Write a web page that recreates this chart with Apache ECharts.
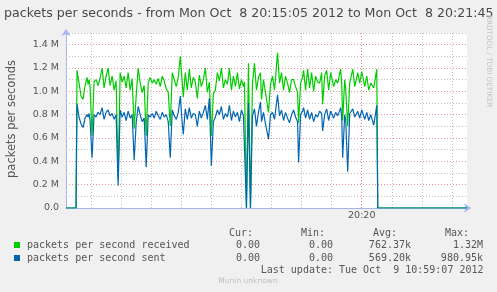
<!DOCTYPE html>
<html>
<head>
<meta charset="utf-8">
<script src="https://cdn.jsdelivr.net/npm/echarts@6/dist/echarts.min.js"></script>
<style>
html,body{margin:0;padding:0;background:#f0f0f0;}
#c{width:497px;height:292px;}
</style>
</head>
<body>
<div id="c"></div>
<script>
// Seconds since 20:15:00
const times = [5,15,16,18,20,22,24,26,27,28,29,31,33,35,37,39,41,43,45,47,49,51,53,55,57,59,61,63,65,67,69,71,73,75,77,79,81,83,85,87,89,
91,93,95,97,99,101,103,105,107,109,111,113,115,117,119,121,122,124,126,128,130,132,134,136,138,140,142,144,146,148,150,152,154,156,158,160,162,164,166,
168,170,172,174,176,178,180,182,183,185,187,189,191,193,195,197,199,200,202,204,207,209,211,213,216,218,220,222,224,226,228,230,232,234,236,237,239,241,242,244,
246,248,250,252,254,256,258,260,261,263,265,267,269,272,274,276,279,280,281,283,284,286,288,291,293,296,298,300,303,305,307,309,312,315,316,405];
// packets per second received (millions)
const received = [0,0,1.18,1.07,0.96,0.93,1.05,1.12,1.06,1.10,1.04,0.62,1.08,1.10,1.05,1.11,1.20,1.03,1.13,1.20,1.05,1.13,1.01,1.09,0.25,1.16,1.08,1.13,1.03,1.16,1.01,1.11,0.68,0.96,1.20,1.07,0.99,1.05,0.62,1.07,1.12,
1.07,1.10,1.06,1.11,1.04,1.13,1.09,1.02,0.99,0.70,1.16,1.10,1.04,1.12,1.30,1.07,0.95,1.16,1.01,1.19,1.03,1.12,1.08,0.94,1.14,1.04,1.10,1.20,0.99,1.08,0.62,0.98,1.01,1.16,1.09,1.20,1.03,1.10,1.06,
1.20,1.01,1.13,1.04,1.16,1.02,1.10,1.04,1.08,0,1.24,0,1.07,1.24,1.01,1.12,1.16,0.93,1.10,0.99,0.82,1.06,1.13,1.01,1.33,1.07,1.16,1.01,1.13,1.07,0.99,1.10,1.10,1.04,0.99,0.73,1.07,1.12,1.18,1.01,
1.19,1.03,1.16,1.00,1.13,1.08,1.07,1.16,0.89,1.13,1.18,1.01,1.16,1.04,1.10,1.07,1.19,1.07,0.75,1.10,1.02,0.70,1.07,1.19,1.04,1.16,1.07,1.17,1.04,1.13,1.01,1.07,1.03,1.19,0,0];
// packets per second sent (millions)
const sent = [0,0,0.89,0.78,0.72,0.69,0.77,0.80,0.78,0.81,0.75,0.43,0.80,0.78,0.82,0.80,0.86,0.76,0.82,0.84,0.79,0.81,0.76,0.80,0.19,0.84,0.78,0.82,0.75,0.83,0.77,0.80,0.41,0.73,0.87,0.80,0.74,0.77,0.35,0.80,0.78,
0.81,0.77,0.83,0.79,0.76,0.82,0.78,0.80,0.74,0.43,0.84,0.79,0.76,0.82,0.96,0.72,0.63,0.85,0.76,0.86,0.77,0.81,0.80,0.70,0.83,0.77,0.82,0.88,0.76,0.94,0.36,0.74,0.78,0.84,0.80,0.87,0.76,0.81,0.78,
0.88,0.75,0.83,0.78,0.82,0.74,0.84,0.79,0.80,0,0.90,0,0.79,0.85,0.70,0.82,0.91,0.74,0.82,0.72,0.59,0.80,0.82,0.76,0.97,0.79,0.84,0.75,0.82,0.77,0.73,0.80,0.84,0.78,0.74,0.39,0.80,0.83,0.86,0.77,
0.84,0.76,0.82,0.74,0.80,0.78,0.83,0.81,0.66,0.80,0.85,0.75,0.83,0.77,0.82,0.79,0.86,0.78,0.43,0.80,0.76,0.31,0.81,0.85,0.78,0.83,0.77,0.84,0.76,0.82,0.75,0.80,0.71,0.88,0,0];

const seriesNames = ['packets per second received','packets per second sent'];
const headers = ['Cur:','Min:','Avg:','Max:'];
const statsReceived = ['0.00','0.00','762.37k','1.32M'];
const statsSent = ['0.00','0.00','569.20k','980.95k'];
const titleText = 'packets per seconds - from Mon Oct  8 20:15:05 2012 to Mon Oct  8 20:21:45';
const yAxisName = 'packets per seconds';
const lastUpdate = 'Last update: Tue Oct  9 10:59:07 2012';
const xLabelSecond = 300; // 20:20:00
const xLabelText = '20:20';

const cRecv = '#00cc00', cSent = '#0066b3';
const recvData = times.map((t,i)=>[t, received[i]*1e6]);
const sentData = times.map((t,i)=>[t, sent[i]*1e6]);

const grayGrid = 'rgba(170,170,170,0.75)';
const redGrid = 'rgba(225,120,120,0.8)';
const none = 'rgba(0,0,0,0)';

const chart = echarts.init(document.getElementById('c'), null, {renderer:'canvas'});
const mono = '10px "DejaVu Sans Mono"';
const colR = [260, 333, 411, 483];
const colH = [253, 325, 397, 469];
const graphics = [
  {type:'text', left:null, style:{text:titleText, x:4, y:14, textVerticalAlign:'middle', font:'12.6px "DejaVu Sans"', fill:'#4a4a4a'}},
  {type:'text', x:12, y:119, rotation:Math.PI/2, style:{text:yAxisName, x:0, y:0, textAlign:'center', textVerticalAlign:'middle', font:'11.5px "DejaVu Sans"', fill:'#555'}},
  {type:'text', x:489, y:15, rotation:-Math.PI/2, style:{text:'RRDTOOL / TOBI OETIKER', x:0, y:0, textAlign:'left', textVerticalAlign:'middle', font:'7.2px "DejaVu Sans"', fill:'#c4c4c4'}},
  {type:'rect', shape:{x:14, y:242, width:6, height:6}, style:{fill:cRecv}},
  {type:'rect', shape:{x:14, y:255, width:6, height:6}, style:{fill:cSent}},
  {type:'text', style:{text:seriesNames[0], x:27, y:245.5, textVerticalAlign:'middle', font:mono, fill:'#555'}},
  {type:'text', style:{text:seriesNames[1], x:27, y:258, textVerticalAlign:'middle', font:mono, fill:'#555'}},
  {type:'text', style:{text:lastUpdate, x:483.5, y:270, textAlign:'right', textVerticalAlign:'middle', font:mono, fill:'#555'}},
  {type:'text', style:{text:'Munin unknown', x:248, y:281.5, textAlign:'center', textVerticalAlign:'middle', font:'7.5px "DejaVu Sans"', fill:'#c0c0c0'}}
];
headers.forEach((h,i)=>graphics.push({type:'text', style:{text:h, x:colH[i], y:233.5, textAlign:'right', textVerticalAlign:'middle', font:mono, fill:'#555'}}));
statsReceived.forEach((s,i)=>graphics.push({type:'text', style:{text:s, x:colR[i], y:245.5, textAlign:'right', textVerticalAlign:'middle', font:mono, fill:'#555'}}));
statsSent.forEach((s,i)=>graphics.push({type:'text', style:{text:s, x:colR[i], y:258, textAlign:'right', textVerticalAlign:'middle', font:mono, fill:'#555'}}));

chart.setOption({
  animation:false,
  backgroundColor:'#f0f0f0',
  grid:{left:66, right:30, top:33, bottom:84, show:true, backgroundColor:'#ffffff', borderWidth:0},
  xAxis:{
    type:'value', min:5, max:405, interval:5,
    axisLine:{show:true, onZero:false, lineStyle:{color:'#a8b4f0', width:1}, symbol:['none','arrow'], symbolSize:[7,7], symbolOffset:[0,4]},
    axisTick:{show:false},
    axisLabel:{margin:3, color:'#555', fontFamily:'DejaVu Sans', fontSize:9.5, formatter:v=> v===xLabelSecond ? xLabelText : ''},
    splitLine:{show:true, lineStyle:{type:[1,2], width:1, color:[none,none,none,none,none,grayGrid]}}
  },
  yAxis:{
    type:'value', min:0, max:1.5e6, interval:1e5,
    axisLine:{show:true, lineStyle:{color:'#a8b4f0', width:1}, symbol:['none','arrow'], symbolSize:[7,7], symbolOffset:[0,4]},
    axisTick:{show:false},
    axisLabel:{margin:7, color:'#555', fontFamily:'DejaVu Sans', fontSize:9.5, formatter:v=>{
      const k = Math.round(v/1e5);
      if (k%2!==0 || k>14) return '';
      return k===0 ? '0.0' : (v/1e6).toFixed(1)+' M';
    }},
    splitLine:{show:true, lineStyle:{type:[1,2], width:1, color:[redGrid, grayGrid]}}
  },
  series:[
    {type:'line', name:'marker', data:[], silent:true, z:1,
     markLine:{silent:true, z:1, symbol:['none','none'], label:{show:false}, lineStyle:{color:redGrid, type:[1,2], width:1}, data:[{xAxis:xLabelSecond}]}},
    {type:'line', name:seriesNames[0], data:recvData, showSymbol:false, symbol:'none', lineStyle:{color:cRecv, width:1.2}, itemStyle:{color:cRecv}, z:2},
    {type:'line', name:seriesNames[1], data:sentData, showSymbol:false, symbol:'none', lineStyle:{color:cSent, width:1.2}, itemStyle:{color:cSent}, z:3}
  ],
  graphic:graphics
});
</script>
</body>
</html>
